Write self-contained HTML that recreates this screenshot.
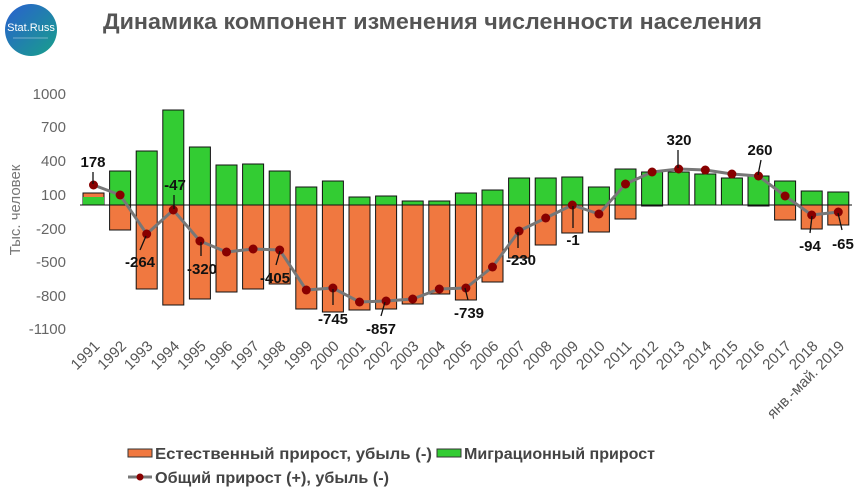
<!DOCTYPE html>
<html><head><meta charset="utf-8"><style>body{margin:0;background:#fff}svg{display:block}</style></head>
<body>
<svg width="859" height="494" xmlns="http://www.w3.org/2000/svg" font-family="Liberation Sans, sans-serif">
<defs><linearGradient id="lg" x1="0" y1="0" x2="1" y2="1"><stop offset="0" stop-color="#2a5fd0"/><stop offset="1" stop-color="#18a08a"/></linearGradient></defs>
<circle cx="31" cy="30" r="26" fill="url(#lg)"/>
<text x="31" y="31" font-size="11" fill="#fff" text-anchor="middle">Stat.Russ</text>
<line x1="13" y1="38" x2="48" y2="38" stroke="#cde" stroke-width="0.6"/>
<text x="103" y="29" font-size="22" font-weight="bold" fill="#555" textLength="659" lengthAdjust="spacingAndGlyphs">Динамика компонент изменения численности населения</text>
<g font-size="15" fill="#666" text-anchor="end">
<text x="66" y="99">1000</text><text x="66" y="132">700</text><text x="66" y="166">400</text><text x="66" y="200">100</text><text x="66" y="234">-200</text><text x="66" y="267">-500</text><text x="66" y="301">-800</text><text x="66" y="334">-1100</text>
</g>
<text transform="translate(20,210) rotate(-90)" font-size="15" fill="#777" text-anchor="middle">Тыс. человек</text>
<g id="bars" stroke="#111" stroke-width="1"></g>
<line x1="80" y1="205" x2="852" y2="205" stroke="#111" stroke-width="1"/>
<g id="line"></g>
<g id="xl" font-size="15" fill="#555" text-anchor="end"></g>
<g font-size="15" font-weight="bold" fill="#111" text-anchor="middle">
<text x="93" y="167">178</text><line x1="93" y1="172" x2="93" y2="184" stroke="#111" stroke-width="1.3"/>
<text x="140" y="267">-264</text><line x1="140" y1="250" x2="146" y2="236" stroke="#111" stroke-width="1.3"/>
<text x="175" y="190">-47</text><line x1="174" y1="195" x2="174" y2="209" stroke="#111" stroke-width="1.3"/>
<text x="202" y="274">-320</text><line x1="201" y1="256" x2="201" y2="242" stroke="#111" stroke-width="1.3"/>
<text x="275" y="283">-405</text><line x1="276" y1="265" x2="280" y2="251" stroke="#111" stroke-width="1.3"/>
<text x="333" y="324">-745</text><line x1="333" y1="305" x2="333" y2="289" stroke="#111" stroke-width="1.3"/>
<text x="381" y="334">-857</text><line x1="381" y1="316" x2="385" y2="302" stroke="#111" stroke-width="1.3"/>
<text x="469" y="318">-739</text><line x1="468" y1="300" x2="465" y2="288" stroke="#111" stroke-width="1.3"/>
<text x="521" y="265">-230</text><line x1="518" y1="248" x2="518" y2="232" stroke="#111" stroke-width="1.3"/>
<text x="573" y="245">-1</text><line x1="573" y1="228" x2="573" y2="206" stroke="#111" stroke-width="1.3"/>
<text x="679" y="145">320</text><line x1="678" y1="150" x2="678" y2="168" stroke="#111" stroke-width="1.3"/>
<text x="760" y="155">260</text><line x1="761" y1="160" x2="758" y2="175" stroke="#111" stroke-width="1.3"/>
<text x="810" y="251">-94</text><line x1="810" y1="233" x2="812" y2="216" stroke="#111" stroke-width="1.3"/>
<text x="843" y="249">-65</text><line x1="842" y1="230" x2="838" y2="213" stroke="#111" stroke-width="1.3"/>
</g>
<rect x="128" y="449" width="24" height="8" fill="#f07840" stroke="#333"/>
<text x="155" y="459" font-size="16" font-weight="bold" fill="#444" textLength="277" lengthAdjust="spacingAndGlyphs">Естественный прирост, убыль (-)</text>
<rect x="437" y="449" width="24" height="8" fill="#33cc33" stroke="#333"/>
<text x="464" y="459" font-size="16" font-weight="bold" fill="#444" textLength="191" lengthAdjust="spacingAndGlyphs">Миграционный прирост</text>
<line x1="128" y1="477" x2="152" y2="477" stroke="#777" stroke-width="3"/>
<circle cx="140" cy="477" r="3.5" fill="#800"/>
<text x="155" y="483" font-size="16" font-weight="bold" fill="#444" textLength="234" lengthAdjust="spacingAndGlyphs">Общий прирост (+), убыль (-)</text>
<script>
var g=[197,171,151,110,147,165,164,171,187,181,197,196,201,201,193,190,178,178,177,187,169,172,172,174,178,176,181,191,192];
var o=[193,230,289,305,299,292,289,284,309,312,310,309,304,294,300,282,258,245,233,232,219,206,205,205,205,206,220,229,225];
var l=[185,195,234,210,241,252,249,250,290,288,302,301,299,289,288,267,231,218,205,214,184,172,169,170,174,176,196,215,212];
var yrs=[];for(var i=1991;i<=2018;i++)yrs.push(''+i);yrs.push('янв.-май. 2019');
var ns='http://www.w3.org/2000/svg',B=document.getElementById('bars'),L=document.getElementById('line'),X=document.getElementById('xl');
function el(t,a,p){var e=document.createElementNS(ns,t);for(var k in a)e.setAttribute(k,a[k]);p.appendChild(e);return e;}
var pts=[];
for(var i=0;i<29;i++){var x=83+i*26.6;
 if(i==0){el('rect',{x:x,y:193,width:21,height:12,fill:'#f07840'},B);el('rect',{x:x,y:197,width:21,height:8,fill:'#33cc33','stroke-width':0},B);}
 else{ if(o[i]>205)el('rect',{x:x,y:205,width:21,height:o[i]-205,fill:'#f07840'},B);
  el('rect',{x:x,y:g[i],width:21,height:205-g[i],fill:'#33cc33'},B);}
 var cx=x+10.5;pts.push(cx+','+l[i]);
 var t=el('text',{x:cx+7,y:347,transform:'rotate(-45 '+(cx+7)+' 347)'},X);t.textContent=yrs[i];
}
el('polyline',{points:pts.join(' '),fill:'none',stroke:'#777','stroke-width':3,'stroke-linejoin':'round'},L);
pts.forEach(function(p){var a=p.split(',');el('circle',{cx:a[0],cy:a[1],r:4.5,fill:'#800'},L);});
</script>
</svg>
</body></html>
